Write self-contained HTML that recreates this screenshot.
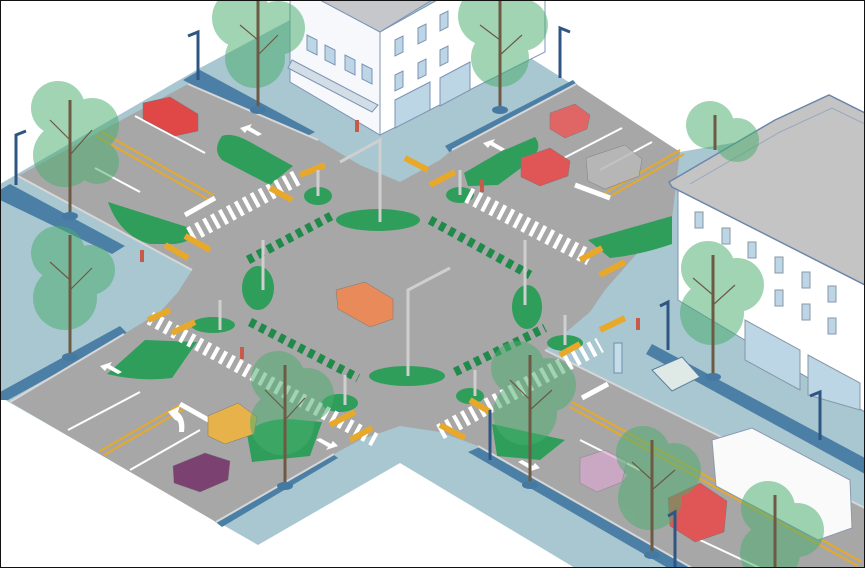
<!DOCTYPE html>
<html><head><meta charset="utf-8"><style>
html,body{margin:0;padding:0;background:#fff}
svg{display:block}
</style></head><body>
<svg width="865" height="568" viewBox="0 0 865 568" xmlns="http://www.w3.org/2000/svg">
<rect x="0" y="0" width="865" height="568" fill="#a9c7d1"/>
<polygon points="0,0 290,0 290,20 200,68 0,184" fill="#fff"/>
<polygon points="528,0 865,0 865,120 680,152 529,57" fill="#fff"/>
<polygon points="0,397 258,545 400,463 575,568 0,568" fill="#fff"/>
<g fill="#4b7fa5">
<polygon points="183,80 200,70 315,132 298,141"/>
<polygon points="0,190 10,184 125,246 112,254 0,200"/>
<polygon points="0,392 120,326 128,334 8,400 0,400"/>
<polygon points="213,520 330,452 338,458 222,527"/>
<polygon points="468,452 482,446 692,568 668,568"/>
<polygon points="652,344 865,458 865,474 646,354"/>
<polygon points="445,146 573,80 580,88 452,156"/>
</g>
<polygon fill="#a7a7a7" points="18,176 188,84 318,140 360,165 400,182 440,160 452,150 576,84 680,152 672,218 640,250 605,290 590,312 545,350 865,508 865,568 692,568 478,446 440,432 400,426 360,440 334,454 216,522 10,402 124,334 160,312 178,292 192,270"/>
<g stroke="#d7d7d7" stroke-width="2" fill="none">
<polyline points="18,176 192,270"/>
<polyline points="188,84 318,140"/>
<polyline points="10,402 124,334"/>
<polyline points="216,522 334,454"/>
<polyline points="478,446 692,568"/>
<polyline points="545,350 865,508"/>
<polyline points="452,150 576,84"/>
</g>
<g stroke="#e6a92a" stroke-width="2" fill="none">
<line x1="100" y1="131" x2="213" y2="195"/><line x1="96" y1="136" x2="209" y2="200"/>
<line x1="605" y1="193" x2="680" y2="150"/><line x1="609" y1="197" x2="684" y2="154"/>
<line x1="100" y1="451" x2="180" y2="405"/><line x1="104" y1="455" x2="184" y2="409"/>
<line x1="572" y1="402" x2="862" y2="562"/><line x1="570" y1="407" x2="858" y2="566"/>
</g>
<g stroke="#fff" stroke-width="2" fill="none">
<line x1="135" y1="116" x2="205" y2="153"/>
<line x1="95" y1="168" x2="140" y2="192"/>
<line x1="68" y1="430" x2="140" y2="392"/>
<line x1="130" y1="470" x2="200" y2="430"/>
<line x1="560" y1="160" x2="622" y2="128"/>
<line x1="600" y1="170" x2="652" y2="142"/>
<line x1="580" y1="440" x2="640" y2="470"/>
<line x1="700" y1="540" x2="760" y2="568"/>
</g>
<g stroke="#fff" stroke-width="5" fill="none">
<line x1="185" y1="215" x2="215" y2="198"/>
<line x1="575" y1="185" x2="610" y2="198"/>
<line x1="180" y1="404" x2="212" y2="422"/>
<line x1="582" y1="398" x2="608" y2="384"/>
</g>
<g fill="#2e9e5a">
<path d="M222,136 Q232,132 250,142 L293,166 L270,185 L222,160 Q212,150 222,136Z"/>
<path d="M108,202 L190,228 Q200,240 175,244 L150,244 Q120,236 108,202Z"/>
<path d="M464,173 L500,152 L535,137 Q545,150 525,165 L498,185 L468,186Z"/>
<path d="M588,240 L672,216 L672,244 Q640,255 610,258Z"/>
<path d="M107,374 L145,340 L197,342 L172,378 Q140,382 107,374Z"/>
<path d="M247,434 Q262,416 300,420 L322,422 L310,456 L252,462Z"/>
<path d="M492,424 L565,440 L540,460 L497,456Z"/>
<ellipse cx="378" cy="220" rx="42" ry="11"/>
<ellipse cx="407" cy="376" rx="38" ry="10"/>
<ellipse cx="258" cy="288" rx="16" ry="22"/>
<ellipse cx="527" cy="307" rx="15" ry="22"/>
<ellipse cx="318" cy="196" rx="14" ry="9"/>
<ellipse cx="213" cy="325" rx="22" ry="8"/>
<ellipse cx="460" cy="195" rx="14" ry="8"/>
<ellipse cx="565" cy="343" rx="18" ry="8"/>
<ellipse cx="340" cy="403" rx="18" ry="9"/>
<ellipse cx="470" cy="396" rx="14" ry="8"/>
</g>
<g stroke="#fff" fill="none" stroke-dasharray="4 5">
<line x1="190" y1="235" x2="300" y2="176" stroke-width="16"/>
<line x1="468" y1="195" x2="590" y2="258" stroke-width="16"/>
<line x1="440" y1="432" x2="600" y2="345" stroke-width="16"/>
<line x1="150" y1="318" x2="375" y2="440" stroke-width="14"/>
</g>
<g stroke="#e8a92a" stroke-width="6">
<line x1="165" y1="245" x2="188" y2="258"/><line x1="185" y1="236" x2="210" y2="250"/>
<line x1="270" y1="188" x2="292" y2="200"/><line x1="300" y1="175" x2="325" y2="165"/>
<line x1="405" y1="158" x2="428" y2="170"/><line x1="430" y1="185" x2="455" y2="172"/>
<line x1="580" y1="260" x2="602" y2="248"/><line x1="600" y1="275" x2="625" y2="262"/>
<line x1="560" y1="355" x2="580" y2="344"/><line x1="600" y1="330" x2="625" y2="318"/>
<line x1="440" y1="425" x2="465" y2="438"/><line x1="470" y1="400" x2="490" y2="412"/>
<line x1="330" y1="425" x2="355" y2="412"/><line x1="350" y1="440" x2="372" y2="428"/>
<line x1="148" y1="320" x2="170" y2="310"/><line x1="172" y1="333" x2="195" y2="322"/>
</g>
<g stroke="#1f8a4a" fill="none" stroke-width="9" stroke-dasharray="6 5">
<line x1="248" y1="260" x2="335" y2="214"/>
<line x1="430" y1="220" x2="530" y2="275"/>
<line x1="250" y1="322" x2="358" y2="378"/>
<line x1="455" y1="372" x2="545" y2="328"/>
</g>
<g fill="#fff">
<polygon points="240,128 252,124 250,127 262,134 258,136 247,130 245,133"/>
<polygon points="483,143 495,139 493,142 505,149 501,151 490,145 488,148"/>
<polygon points="100,366 112,362 110,365 122,372 118,374 107,368 105,371"/>
<polygon points="338,446 326,450 328,447 316,440 320,438 331,444 333,441"/>
<polygon points="540,468 528,472 530,469 518,462 522,460 533,466 535,463"/>
<path d="M175,420 L168,412 L180,406 L178,412 Q186,418 184,432 L179,432 Q180,420 175,420Z"/>
</g>
<polygon points="652,370 682,357 700,377 672,391" fill="#dfe9e6" stroke="#5b7fa0" stroke-width="1"/>
<rect x="614" y="343" width="8" height="30" fill="#c5dde6" stroke="#6a8fae" stroke-width="1"/>
<polygon points="290,-20 380,32 380,135 290,82" fill="#f6f8fb" stroke="#7c93b6" stroke-width="1"/>
<polygon points="380,32 545,-60 545,52 380,135" fill="#ffffff" stroke="#7c93b6" stroke-width="1"/>
<polygon points="320,0 380,32 432,0" fill="#c5c7ca" stroke="#7c93b6" stroke-width="1"/>
<g fill="#bcd6e6" stroke="#7c93b6" stroke-width="1">
<polygon points="307,35 317,40 317,55 307,50"/><polygon points="345,55 355,60 355,75 345,70"/>
<polygon points="325,45 335,50 335,65 325,60"/><polygon points="362,64 372,69 372,84 362,79"/>
<polygon points="395,40 403,36 403,52 395,56"/><polygon points="418,28 426,24 426,40 418,44"/>
<polygon points="440,15 448,11 448,27 440,31"/><polygon points="395,75 403,71 403,87 395,91"/>
<polygon points="418,63 426,59 426,75 418,79"/><polygon points="440,50 448,46 448,62 440,66"/>
<polygon points="395,100 430,82 430,110 395,128"/><polygon points="440,78 470,62 470,90 440,106"/>
</g>
<polygon points="292,60 378,105 372,112 288,68" fill="#d3dde5" stroke="#7c93b6" stroke-width="1"/>
<polygon points="678,188 865,285 865,412 678,300" fill="#ffffff" stroke="#7c93b6" stroke-width="1"/>
<polygon points="669,182 775,120 829,95 865,113 865,285 672,187" fill="#c4c4c4" stroke="#6d86ab" stroke-width="1.5"/>
<polyline points="690,184 780,132 832,108 865,124" fill="none" stroke="#98a8bd" stroke-width="1"/>
<g fill="#bcd6e6" stroke="#8896a6" stroke-width="1">
<rect x="695" y="212" width="8" height="16"/><rect x="722" y="228" width="8" height="16"/>
<rect x="748" y="242" width="8" height="16"/><rect x="775" y="257" width="8" height="16"/>
<rect x="802" y="272" width="8" height="16"/><rect x="828" y="286" width="8" height="16"/>
<rect x="775" y="290" width="8" height="16"/><rect x="802" y="304" width="8" height="16"/>
<rect x="828" y="318" width="8" height="16"/>
<polygon points="745,320 800,350 800,390 745,360"/><polygon points="808,355 860,383 860,410 808,395"/>
</g>
<g stroke="#777" stroke-width="0.5">
<polygon points="143,103 170,97 198,114 198,131 175,136 143,119" fill="#e04848"/>
<polygon points="336,290 365,282 393,299 393,319 370,327 338,309" fill="#e88a5a"/>
<polygon points="550,113 575,104 590,115 587,129 565,138 550,129" fill="#e06666"/>
<polygon points="521,158 550,148 570,161 568,176 540,186 521,177" fill="#e05555"/>
<polygon points="586,158 625,145 642,159 639,176 605,189 588,181" fill="#b9b9b9" opacity="0.85"/>
<polygon points="208,416 238,403 257,417 254,434 225,444 208,436" fill="#e7b24a"/>
<polygon points="173,466 205,453 230,461 228,480 200,492 174,483" fill="#7b4170"/>
<polygon points="668,498 700,483 727,501 724,532 695,542 670,526" fill="#e05555"/>
<polygon points="580,458 605,450 627,461 622,482 597,492 580,483" fill="#d9a9cf" opacity="0.7"/>
<polygon points="712,440 752,428 850,480 852,528 818,540 716,486" fill="#fafafa" stroke="#8a9bb2" stroke-width="1"/>
</g>
<g fill="#4aae6e" opacity="0.52">
<circle cx="242" cy="18" r="30"/><circle cx="278" cy="28" r="27"/><circle cx="255" cy="58" r="30"/>
<circle cx="488" cy="16" r="30"/><circle cx="522" cy="25" r="26"/><circle cx="500" cy="58" r="29"/>
<circle cx="58" cy="108" r="27"/><circle cx="92" cy="125" r="27"/><circle cx="65" cy="155" r="32"/><circle cx="97" cy="162" r="22"/>
<circle cx="58" cy="253" r="27"/><circle cx="90" cy="270" r="25"/><circle cx="65" cy="298" r="32"/>
<circle cx="278" cy="378" r="27"/><circle cx="307" cy="395" r="27"/><circle cx="282" cy="423" r="32"/>
<circle cx="518" cy="368" r="27"/><circle cx="549" cy="385" r="27"/><circle cx="525" cy="413" r="32"/>
<circle cx="643" cy="453" r="27"/><circle cx="674" cy="470" r="27"/><circle cx="650" cy="498" r="32"/>
<circle cx="708" cy="268" r="27"/><circle cx="737" cy="285" r="27"/><circle cx="712" cy="313" r="32"/>
<circle cx="768" cy="508" r="27"/><circle cx="797" cy="530" r="27"/><circle cx="770" cy="553" r="30"/>
<circle cx="710" cy="125" r="24"/><circle cx="737" cy="140" r="22"/>
</g>
<g stroke="#6d5a45" stroke-width="3" fill="none">
<line x1="258" y1="0" x2="258" y2="110"/><line x1="500" y1="0" x2="500" y2="110"/>
<line x1="70" y1="100" x2="70" y2="215"/><line x1="70" y1="235" x2="70" y2="357"/>
<line x1="285" y1="365" x2="285" y2="485"/><line x1="530" y1="355" x2="530" y2="484"/>
<line x1="652" y1="440" x2="652" y2="555"/><line x1="713" y1="255" x2="713" y2="377"/>
<line x1="775" y1="495" x2="775" y2="568"/><line x1="715" y1="115" x2="715" y2="150"/>
</g>
<g stroke="#6d5a45" stroke-width="1.2" fill="none">
<path d="M258,40 L240,25 M258,55 L278,35 M70,140 L50,120 M70,155 L92,130 M70,280 L50,262 M70,290 L92,268 M285,410 L265,390 M285,420 L305,398 M530,400 L510,380 M530,410 L552,390 M652,480 L632,462 M652,490 L675,470 M713,295 L693,278 M713,305 L735,285 M500,40 L480,25 M500,55 L522,35"/>
</g>
<g fill="#4679a1"><ellipse cx="258" cy="110" rx="8" ry="4"/><ellipse cx="500" cy="110" rx="8" ry="4"/><ellipse cx="70" cy="216" rx="8" ry="4"/><ellipse cx="70" cy="357" rx="8" ry="4"/><ellipse cx="285" cy="486" rx="8" ry="4"/><ellipse cx="530" cy="485" rx="8" ry="4"/><ellipse cx="652" cy="555" rx="8" ry="4"/><ellipse cx="713" cy="377" rx="8" ry="4"/></g>
<g stroke="#2f5683" stroke-width="3" fill="none">
<path d="M198,80 V32 L188,36"/><path d="M16,185 V135 L26,131"/><path d="M560,78 V28 L570,32"/>
<path d="M668,350 V302 L660,306"/><path d="M820,440 V392 L810,396"/><path d="M490,460 V410"/><path d="M675,568 V512 L668,516"/>
</g>
<g stroke="#cfcfcf" stroke-width="3" fill="none">
<path d="M380,222 V140 L340,162"/><path d="M408,376 V290 L450,268"/><path d="M263,290 V240"/><path d="M525,305 V240"/>
<path d="M220,330 V300"/><path d="M565,345 V315"/><path d="M345,405 V375"/><path d="M475,396 V370"/><path d="M318,196 V170"/><path d="M460,195 V170"/>
</g>
<g fill="#c75b4a"><rect x="140" y="250" width="4" height="12"/><rect x="240" y="347" width="4" height="12"/><rect x="480" y="180" width="4" height="12"/><rect x="636" y="318" width="4" height="12"/><rect x="355" y="120" width="4" height="12"/></g>
<rect x="0.5" y="0.5" width="864" height="567" fill="none" stroke="#111" stroke-width="1"/>
</svg>
</body></html>
